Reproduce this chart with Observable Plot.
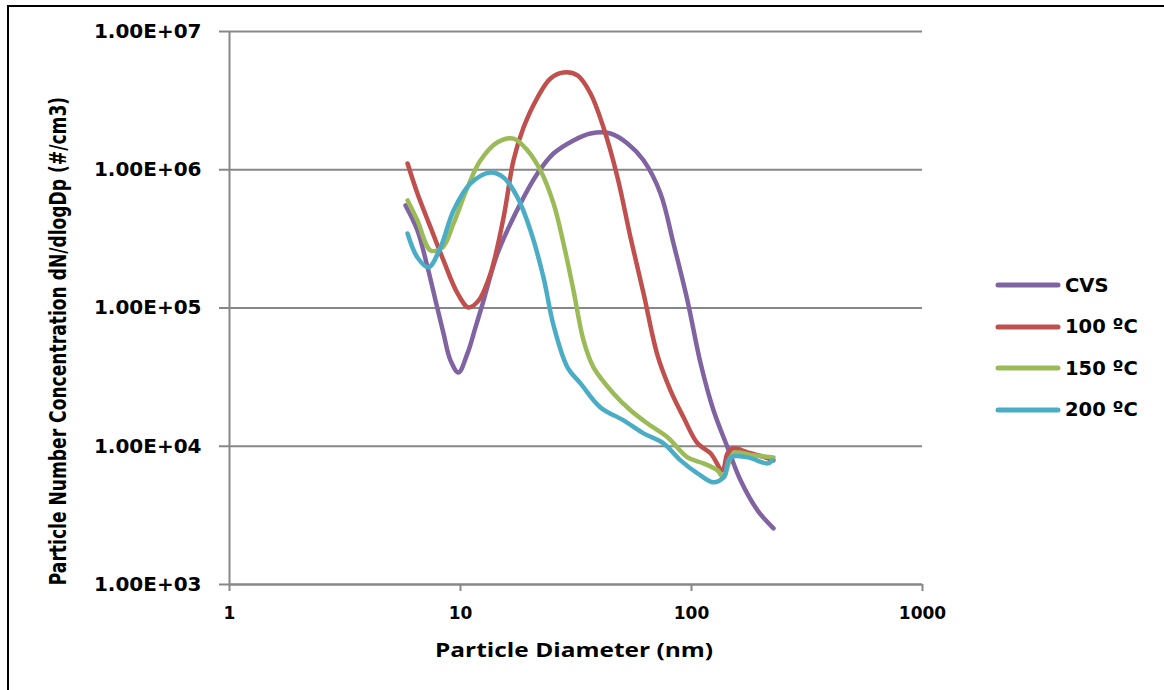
<!DOCTYPE html>
<html>
<head>
<meta charset="utf-8">
<script src="https://cdn.jsdelivr.net/npm/d3@7"></script>
<script src="https://cdn.jsdelivr.net/npm/@observablehq/plot@0.6"></script>
<style>
  body { margin: 0; background: #fff; }
  #wrap { position: relative; width: 1164px; height: 690px; overflow: hidden; background: #fff; }
  #border { position: absolute; left: 7px; top: 5px; width: 1300px; height: 900px; border-top: 2.5px solid #000; border-left: 2.5px solid #000; pointer-events: none; }
  .title { position: absolute; white-space: nowrap; color: #000; transform-origin: 50% 50%; line-height: 1; }
  #ytitle { font: bold 23px "Liberation Sans Narrow", "DejaVu Sans Condensed", "Liberation Sans", sans-serif; }
  #xtitle { font: bold 19px "Open Sans", "Liberation Sans", sans-serif; }
  #legend { position: absolute; left: 0; top: 0; }
  .item { position: absolute; left: 995px; height: 24px; display: flex; align-items: center; }
  .item svg { display: block; }
  .item span { margin-left: 4px; font: bold 19.5px "DejaVu Sans", sans-serif; color: #000; white-space: nowrap; }
</style>
</head>
<body>
<div id="wrap">
  <div id="chart"></div>
  <div id="ytitle" class="title">Particle Number Concentration dN/dlogDp (#/cm3)</div>
  <div id="xtitle" class="title">Particle Diameter (nm)</div>
  <div id="legend"></div>
  <div id="border"></div>
</div>
<script>
// ---- data ----
const seriesNames = ["CVS", "100 ºC", "150 ºC", "200 ºC"];
const seriesColors = ["#8064a2", "#c0504d", "#9bbb59", "#4bacc6"];

const cvsD = [5.78, 6.51, 7.20, 7.80, 8.44, 9.05, 9.80, 10.72, 11.61, 12.58, 14.46, 18.19, 21.54, 25.27, 30.84, 36.54, 44.60, 52.84, 61.98, 73.41, 83.56, 96.09, 109.4, 124.5, 143.2, 163.0, 193.1, 226.5];
const cvsN = [5.52e5, 3.64e5, 1.97e5, 1.13e5, 6.55e4, 4.18e4, 3.42e4, 4.70e4, 7.24e4, 1.13e5, 2.48e5, 5.71e5, 9.40e5, 1.31e6, 1.63e6, 1.83e6, 1.83e6, 1.55e6, 1.17e6, 6.74e5, 2.93e5, 1.13e5, 4.0e4, 1.82e4, 9.82e3, 5.67e3, 3.44e3, 2.55e3];

const t100D = [5.90, 6.51, 7.42, 8.44, 9.70, 10.83, 11.96, 13.49, 15.36, 16.96, 18.74, 21.54, 24.52, 27.92, 32.10, 36.54, 41.59, 47.83, 54.45, 61.98, 71.25, 81.09, 92.35, 106.2, 120.9, 136.2, 143.2, 152.0, 174.8, 200.0, 226.5];
const t100N = [1.11e6, 6.74e5, 3.83e5, 2.21e5, 1.28e5, 1.01e5, 1.13e5, 1.78e5, 4.52e5, 1.17e6, 2.02e6, 3.33e6, 4.57e6, 5.05e6, 4.81e6, 3.56e6, 2.02e6, 8.80e5, 3.24e5, 1.28e5, 4.55e4, 2.54e4, 1.62e4, 1.05e4, 8.89e3, 6.69e3, 8.89e3, 9.66e3, 9.03e3, 8.50e3, 7.91e3];

const t150D = [5.90, 6.51, 7.42, 8.36, 9.33, 10.72, 12.21, 14.46, 16.96, 19.50, 22.20, 25.27, 27.92, 30.84, 34.08, 37.65, 45.95, 54.45, 64.49, 78.70, 96.09, 112.7, 129.6, 137.6, 152.0, 185.5, 226.5];
const t150N = [6.00e5, 4.30e5, 2.61e5, 2.74e5, 4.09e5, 7.45e5, 1.17e6, 1.58e6, 1.68e6, 1.38e6, 9.88e5, 5.71e5, 2.93e5, 1.34e5, 5.83e4, 3.72e4, 2.41e4, 1.82e4, 1.46e4, 1.16e4, 8.31e3, 7.52e3, 6.69e3, 5.96e3, 8.89e3, 8.60e3, 8.31e3];

const t200D = [5.90, 6.51, 7.27, 8.19, 9.33, 11.05, 13.49, 15.36, 17.65, 20.09, 22.87, 25.27, 29.05, 33.07, 40.36, 50.77, 61.98, 75.64, 89.65, 106.2, 124.5, 137.6, 147.5, 174.8, 213.3, 224.2];
const t200N = [3.46e5, 2.32e5, 1.97e5, 2.74e5, 5.08e5, 7.96e5, 9.56e5, 8.80e5, 6.31e5, 3.64e5, 1.66e5, 7.5e4, 3.72e4, 2.85e4, 1.91e4, 1.54e4, 1.24e4, 1.05e4, 7.91e3, 6.37e3, 5.48e3, 5.96e3, 8.31e3, 8.31e3, 7.52e3, 7.91e3];

const xTicks = [1, 10, 100, 1000];
const xTickLabels = ["1", "10", "100", "1000"];
const yTicks = [1e3, 1e4, 1e5, 1e6, 1e7];
const yTickLabels = ["1.00E+03", "1.00E+04", "1.00E+05", "1.00E+06", "1.00E+07"];

// ---- build table ----
const seriesD = [cvsD, t100D, t150D, t200D];
const seriesN = [cvsN, t100N, t150N, t200N];
const rows = [];
seriesNames.forEach((name, s) => {
  seriesD[s].forEach((d, i) => rows.push({series: name, d, n: seriesN[s][i]}));
});

const gridColor = "#878787";

const chart = Plot.plot({
  width: 1164,
  height: 690,
  marginLeft: 229,
  marginRight: 242,
  marginTop: 31,
  marginBottom: 106,
  style: {background: "transparent", overflow: "visible"},
  x: {type: "log", domain: [1, 1000]},
  y: {type: "log", domain: [1e3, 1e7]},
  color: {domain: seriesNames, range: seriesColors},
  marks: [
    Plot.gridY(yTicks, {stroke: gridColor, strokeOpacity: 1, strokeWidth: 2}),
    Plot.ruleX([1], {stroke: gridColor, strokeWidth: 2}),
    Plot.ruleY([1e3], {stroke: gridColor, strokeWidth: 2}),
    Plot.axisY(yTicks, {
      tickSize: 10, tickPadding: 18, stroke: gridColor, strokeWidth: 2, fill: "#000",
      tickFormat: d => yTickLabels[yTicks.indexOf(d)],
      fontSize: 20, fontWeight: "bold", fontFamily: "DejaVu Sans", label: null
    }),
    Plot.axisX(xTicks, {
      tickSize: 7, tickPadding: 15, stroke: gridColor, strokeWidth: 2, fill: "#000",
      tickFormat: d => xTickLabels[xTicks.indexOf(d)],
      fontSize: 17, fontWeight: "bold", fontFamily: "DejaVu Sans", label: null
    }),
    Plot.line(rows, {
      x: "d", y: "n", z: "series", stroke: "series",
      strokeWidth: 4.5, curve: "catmull-rom", strokeLinejoin: "round", strokeLinecap: "round"
    })
  ]
});
document.getElementById("chart").appendChild(chart);

// ---- titles ----
function place(el, cx, cy, len, rotate) {
  const w = el.offsetWidth, h = el.offsetHeight;
  el.style.left = (cx - w / 2) + "px";
  el.style.top = (cy - h / 2) + "px";
  const k = len / w;
  el.style.transform = (rotate ? "rotate(-90deg) " : "") + "scaleX(" + k + ")";
}
place(document.getElementById("ytitle"), 58, 341, 488, true);
place(document.getElementById("xtitle"), 574, 650, 278, false);

// ---- legend ----
const legend = document.getElementById("legend");
const legendY = [285, 326.5, 368, 409.5];
seriesNames.forEach((name, i) => {
  const item = document.createElement("div");
  item.className = "item";
  item.style.top = (legendY[i] - 12) + "px";
  item.innerHTML = `<svg width="66" height="10"><line x1="3" x2="63" y1="5" y2="5" stroke="${seriesColors[i]}" stroke-width="5" stroke-linecap="round"/></svg><span>${name}</span>`;
  legend.appendChild(item);
});
</script>
</body>
</html>
